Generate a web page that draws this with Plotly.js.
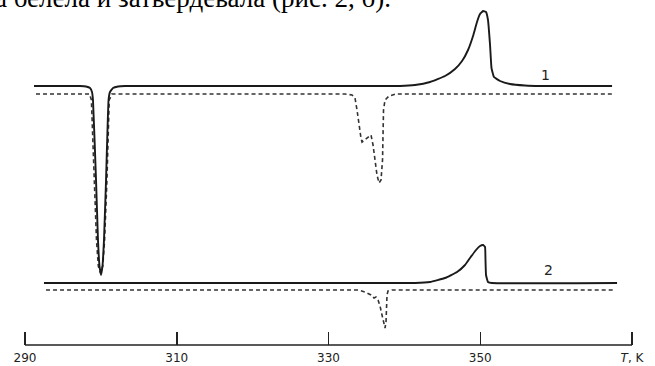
<!DOCTYPE html>
<html>
<head>
<meta charset="utf-8">
<script src="https://cdn.plot.ly/plotly-3.0.1.min.js"></script>
<style>html,body{margin:0;padding:0;background:#fff;}#chart{width:655px;height:366px;}</style>
</head>
<body>
<div id="chart"></div>
<script>
// Temperature (K) and heat-flow signal (arbitrary units, offset curves)
const t1Solid = [291.19,297.25,298.04,298.57,298.83,298.96,299.36,299.62,299.82,300.02,300.21,300.41,300.68,301.01,301.20,301.60,302.26,303.18,339.42,341.40,343.38,345.36,346.67,347.60,348.39,349.05,349.57,349.97,350.36,350.76,351.02,351.29,351.48,351.81,352.61,353.92,355.90,357.88,367.37];
const s1Solid = [259,259,258.5,257,253,245,165,105,79,70,79,105,165,245,253,257,258.5,259,259,260,263,269,276,284,295,309,323,331,334,333,325,300,277,268,264,261,259.5,259,259];

const t1Dash = [291.45,298.50,298.75,299.10,299.42,299.66,299.95,300.25,300.49,300.80,301.10,301.45,332.18,333.10,333.49,333.76,334.02,334.28,334.42,334.94,335.60,335.87,336.13,336.39,336.66,336.92,337.12,337.18,337.25,337.45,337.97,338.90,367.37];
const s1Dash = [251,251,245,165,105,79,72,79,105,165,245,251,251,250,247,235,220,207,203,206,210,200,185,170,162,165,185,215,235,245,249,251,251];

const t2Solid = [292.50,341.40,343.38,345.36,346.94,347.99,348.65,349.44,349.97,350.36,350.63,350.69,350.76,351.02,351.55,368.03];
const s2Solid = [62,62,63,67,73,80,87,95,99,100,98,85,70,63,62,62];

const t2Dash = [292.77,333.89,334.81,335.60,336.00,336.26,336.53,336.79,337.05,337.32,337.45,337.58,337.64,337.71,337.84,338.37,367.50];
const s2Dash = [55,55,53,50,47,48,45,39,30,21,17,23,40,50,54,55,55];

const tickVals = [290,310,330,350,370];
const tickText = ['290','310','330','350','<i>T</i>, K'];
const curveLabels = ['1','2'];
const curveLabelT = [358.66,358.93];
const curveLabelS = [270,75];
const headerText = 'а белела и затвердевала (рис. 2, б).';

const solidLine = {color:'#1a1a1a', width:1.9, shape:'spline', smoothing:0.3};
const dashLine = {color:'#333333', width:1.6, dash:'4px,3px'};

const traces = [
  {x:t1Dash, y:s1Dash, mode:'lines', line:dashLine, hoverinfo:'skip'},
  {x:t1Solid, y:s1Solid, mode:'lines', line:solidLine, hoverinfo:'skip'},
  {x:t2Solid, y:s2Solid, mode:'lines', line:solidLine, hoverinfo:'skip'},
  {x:t2Dash, y:s2Dash, mode:'lines', line:dashLine, hoverinfo:'skip'}
];

const annotations = curveLabels.map((lab,i)=>({
  x:curveLabelT[i], y:curveLabelS[i], xref:'x', yref:'y', text:lab, showarrow:false,
  font:{family:'DejaVu Sans, Arial, sans-serif', size:14, color:'#222'}
}));
annotations.push({
  x:0, y:1, xref:'paper', yref:'paper', xanchor:'left', yanchor:'middle', xshift:-7, yshift:2,
  text:headerText, showarrow:false,
  font:{family:'Liberation Serif, Times New Roman, serif', size:27, color:'#000'}
});

const layout = {
  width:655, height:366,
  margin:{l:0, r:0, t:0, b:21},
  paper_bgcolor:'#fff', plot_bgcolor:'#fff',
  showlegend:false,
  xaxis:{
    range:[286.705, 373.03], showgrid:false, zeroline:false, showline:false,
    tickmode:'array', tickvals:tickVals, ticktext:tickText,
    ticks:'inside', ticklen:13, tickwidth:1.5, tickcolor:'#222',
    ticklabelstandoff:4,
    tickfont:{family:'DejaVu Sans, Arial, sans-serif', size:12, color:'#222'},
    automargin:false, fixedrange:true
  },
  yaxis:{range:[0,345], visible:false, fixedrange:true},
  shapes:[{type:'line', xref:'x', yref:'paper', x0:290, x1:370, y0:0, y1:0, line:{color:'#222', width:1.5}}],
  annotations:annotations
};

Plotly.newPlot('chart', traces, layout, {staticPlot:true, displayModeBar:false});
</script>
</body>
</html>
